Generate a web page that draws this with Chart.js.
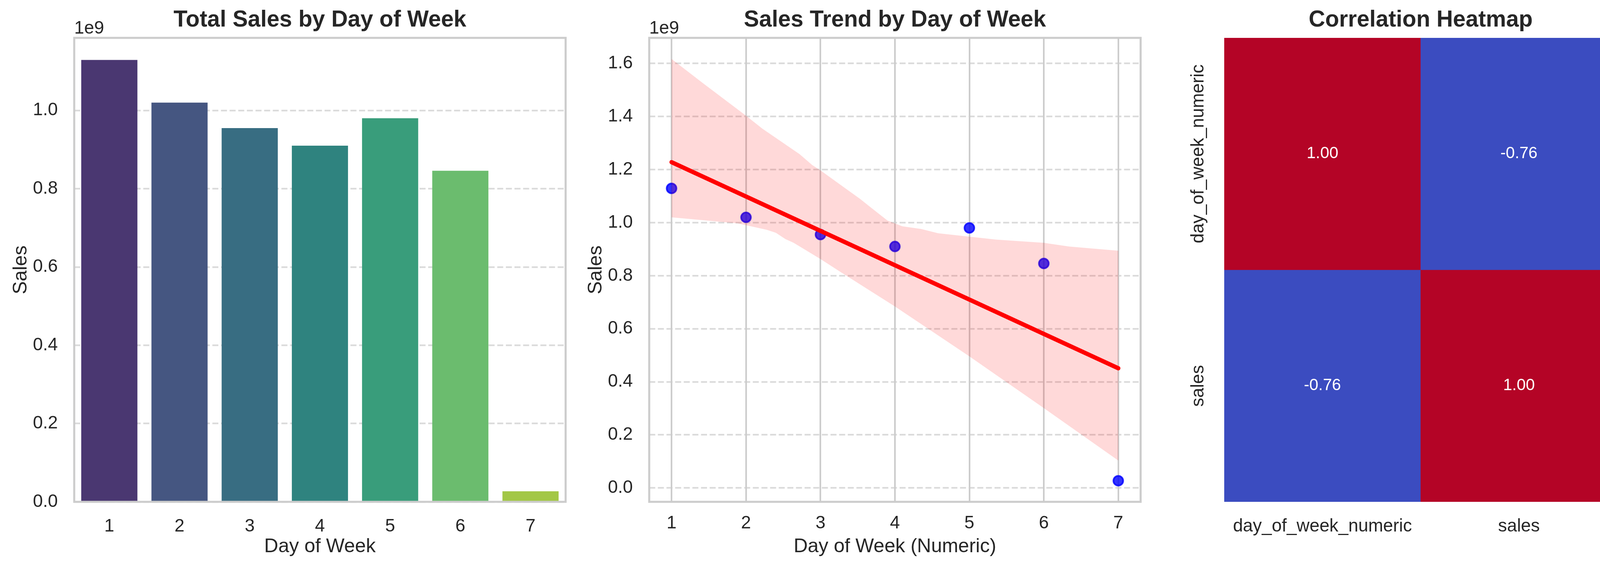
<!DOCTYPE html>
<html>
<head>
<meta charset="utf-8">
<script src="https://cdn.jsdelivr.net/npm/chart.js@4.4.1/dist/chart.umd.min.js"></script>
<style>
  html, body { margin: 0; padding: 0; background: #ffffff; }
  body { width: 4419px; height: 1457px; position: relative; overflow: hidden; }
  canvas { position: absolute; top: 0; }
</style>
</head>
<body>
<canvas id="barChart" width="1472" height="1457" style="left:0px"></canvas>
<canvas id="trendChart" width="1472" height="1457" style="left:1472px"></canvas>
<canvas id="heatChart" width="1236" height="1457" style="left:2944px"></canvas>
<canvas id="cbarChart" width="239" height="1457" style="left:4180px"></canvas>
<script>
// values
const days = ["1", "2", "3", "4", "5", "6", "7"];
const dayNums = [1, 2, 3, 4, 5, 6, 7];
const sales = [1.129e9, 1.020e9, 0.955e9, 0.910e9, 0.980e9, 0.846e9, 0.027e9];
const salesTicks = [0, 0.2e9, 0.4e9, 0.6e9, 0.8e9, 1.0e9];
const trendTicks = [0, 0.2e9, 0.4e9, 0.6e9, 0.8e9, 1.0e9, 1.2e9, 1.4e9, 1.6e9];

// regression line and its confidence band
const trendX = [1, 7];
const trendY = [1.228e9, 0.451e9];
const bandUpperX = [1, 1.42, 2, 2.22, 2.72, 2.89, 3, 3.36, 3.53, 3.65, 3.9, 4.1, 4.35, 4.58, 5.36, 6, 6.34, 7];
const bandUpperY = [1.617e9, 1.526e9, 1.403e9, 1.354e9, 1.258e9, 1.217e9, 1.197e9, 1.124e9, 1.090e9, 1.063e9,
                    1.008e9, 0.986e9, 0.976e9, 0.960e9, 0.936e9, 0.924e9, 0.910e9, 0.894e9];
const bandLowerX = [1, 1.89, 2.28, 2.40, 2.53, 2.64, 3, 3.28, 4, 5, 6, 7];
const bandLowerY = [1.020e9, 0.997e9, 0.973e9, 0.962e9, 0.938e9, 0.924e9, 0.863e9, 0.812e9,
                    0.684e9, 0.496e9, 0.301e9, 0.103e9];

// correlation matrix
const corrLabels = ["day_of_week_numeric", "sales"];
const corrValues = [[1.00, -0.76], [-0.76, 1.00]];
const cbarTicks = [-0.6, -0.4, -0.2, 0, 0.2, 0.4, 0.6, 0.8, 1.0];

// styles
const barColors = ["#4a3771", "#455681", "#386d82", "#2f837f", "#399d7b", "#6bbc6e", "#a3c746"];
const coolwarmStops = [
  [0, "#3b4cc0"], [0.125, "#6282ea"], [0.25, "#8db0fe"], [0.375, "#b8d0f9"], [0.5, "#dddddd"],
  [0.625, "#f4c4ac"], [0.75, "#f49a7b"], [0.875, "#dd604d"], [1, "#b40426"]
];
const TEXT = "#262626";
const TICK_FONT = { size: 45.8 };
const LABEL_FONT = { size: 50 };
const TITLE_FONT = { size: 58.3, weight: "bold" };

Chart.defaults.font.family = '"Liberation Sans", Arial, sans-serif';
Chart.defaults.color = TEXT;
Chart.defaults.animation = false;
Chart.defaults.responsive = false;
Chart.defaults.devicePixelRatio = 1;
Chart.defaults.plugins.legend.display = false;
Chart.defaults.plugins.tooltip.enabled = false;

function hexToRgb(h) {
  return [1, 3, 5].map(i => parseInt(h.slice(i, i + 2), 16));
}

function coolwarm(t) {
  t = Math.max(0, Math.min(1, t));
  for (let i = 1; i < coolwarmStops.length; i++) {
    const [t1, c1] = coolwarmStops[i];
    const [t0, c0] = coolwarmStops[i - 1];
    if (t <= t1) {
      const f = (t - t0) / (t1 - t0);
      const a = hexToRgb(c0), b = hexToRgb(c1);
      const c = a.map((v, k) => Math.round(v + (b[k] - v) * f));
      return "rgb(" + c.join(",") + ")";
    }
  }
  return coolwarmStops[coolwarmStops.length - 1][1];
}

// box round the plot area, like the axes spines
const framePlugin = {
  id: "frame",
  afterDatasetsDraw(chart) {
    const { ctx, chartArea: a } = chart;
    ctx.save();
    ctx.strokeStyle = "#cccccc";
    ctx.lineWidth = 5.2;
    ctx.strokeRect(a.left, a.top, a.right - a.left, a.bottom - a.top);
    ctx.restore();
  }
};

// the "1e9" offset label above the y axis
const offsetTextPlugin = {
  id: "offsetText",
  afterDraw(chart, args, opts) {
    const { ctx, chartArea: a } = chart;
    ctx.save();
    ctx.font = '45.8px "Liberation Sans", Arial, sans-serif';
    ctx.fillStyle = TEXT;
    ctx.textAlign = "left";
    ctx.textBaseline = "alphabetic";
    ctx.fillText(opts.text, a.left, a.top - 11);
    ctx.restore();
  }
};

function titleOpts(text) {
  return {
    display: true, text: text, fullSize: false, color: TEXT,
    font: TITLE_FONT, padding: { top: 17, bottom: 10 }
  };
}

function salesAxis(ticks, min, max) {
  return {
    type: "linear", min: min, max: max,
    afterBuildTicks: s => { s.ticks = ticks.map(v => ({ value: v })); },
    afterFit: s => { s.width = 190; },
    ticks: { padding: 42, font: TICK_FONT, color: TEXT, callback: v => (v / 1e9).toFixed(1) },
    grid: { color: "rgba(204,204,204,0.7)", lineWidth: 4.17, drawTicks: false },
    border: { display: false, dash: [15.4, 6.7] },
    title: { display: true, text: "Sales", font: LABEL_FONT, color: TEXT, padding: { top: 24, bottom: 0 } }
  };
}

// ---- panel 1: bars ----
new Chart(document.getElementById("barChart"), {
  type: "bar",
  data: {
    labels: days,
    datasets: [{
      data: sales,
      backgroundColor: barColors,
      borderWidth: 0,
      barPercentage: 0.8,
      categoryPercentage: 1
    }]
  },
  options: {
    layout: { padding: { left: 0, right: 24, top: 0, bottom: 0 } },
    plugins: { title: titleOpts("Total Sales by Day of Week"), offsetText: { text: "1e9" } },
    scales: {
      x: {
        type: "category", offset: true,
        grid: { display: false }, border: { display: false },
        afterFit: s => { s.height = 172; },
        ticks: { padding: 28, font: TICK_FONT, color: TEXT, maxRotation: 0, autoSkip: false },
        title: { display: true, text: "Day of Week", font: LABEL_FONT, color: TEXT, padding: { top: 0, bottom: 27 } }
      },
      y: salesAxis(salesTicks, 0, Math.max(...sales) * 1.05)
    }
  },
  plugins: [framePlugin, offsetTextPlugin]
});

// ---- panel 2: scatter with regression ----
const xMin = dayNums[0] - 0.05 * (dayNums[dayNums.length - 1] - dayNums[0]);
const xMax = dayNums[dayNums.length - 1] + 0.05 * (dayNums[dayNums.length - 1] - dayNums[0]);
const yLo = Math.min(...bandLowerY, ...sales);
const yHi = Math.max(...bandUpperY, ...sales);
const yPad = 0.05 * (yHi - yLo);

const bandShape = bandUpperX.map((x, i) => ({ x: x, y: bandUpperY[i] }))
  .concat(bandLowerX.map((x, i) => ({ x: x, y: bandLowerY[i] })).reverse());

new Chart(document.getElementById("trendChart"), {
  type: "scatter",
  data: {
    datasets: [
      {
        type: "line", order: 0,
        data: trendX.map((x, i) => ({ x: x, y: trendY[i] })),
        borderColor: "#ff0000", borderWidth: 11, borderCapStyle: "round",
        pointRadius: 0, fill: false, tension: 0
      },
      {
        type: "line", order: 1,
        data: bandShape,
        borderColor: "rgba(0,0,0,0)", borderWidth: 0,
        backgroundColor: "rgba(255,0,0,0.15)", fill: "shape",
        pointRadius: 0, tension: 0
      },
      {
        type: "scatter", order: 2,
        data: dayNums.map((x, i) => ({ x: x, y: sales[i] })),
        backgroundColor: "rgba(0,0,255,0.8)", borderColor: "rgba(0,0,255,0.8)",
        pointRadius: 12.5, borderWidth: 4.2
      }
    ]
  },
  options: {
    layout: { padding: { left: 0, right: 24, top: 0, bottom: 0 } },
    plugins: { title: titleOpts("Sales Trend by Day of Week"), offsetText: { text: "1e9" } },
    scales: {
      x: {
        type: "linear", min: xMin, max: xMax,
        afterBuildTicks: s => { s.ticks = dayNums.map(v => ({ value: v })); },
        afterFit: s => { s.height = 172; },
        grid: { color: "#cccccc", lineWidth: 4.17, drawTicks: false },
        border: { display: false },
        ticks: { padding: 28, font: TICK_FONT, color: TEXT, maxRotation: 0, callback: v => String(v) },
        title: { display: true, text: "Day of Week (Numeric)", font: LABEL_FONT, color: TEXT, padding: { top: 0, bottom: 27 } }
      },
      y: salesAxis(trendTicks, yLo - yPad, yHi + yPad)
    }
  },
  plugins: [framePlugin, offsetTextPlugin]
});

// ---- panel 3: correlation heatmap ----
const cMin = Math.min(...corrValues.flat());
const cMax = Math.max(...corrValues.flat());

const heatLabelsPlugin = {
  id: "heatLabels",
  afterDatasetsDraw(chart) {
    const { ctx, chartArea: a } = chart;
    const yScale = chart.scales.y;
    ctx.save();
    // cell annotations
    ctx.font = '41.7px "Liberation Sans", Arial, sans-serif';
    ctx.fillStyle = "#ffffff";
    ctx.textAlign = "center";
    ctx.textBaseline = "middle";
    chart.data.datasets.forEach((ds, r) => {
      chart.getDatasetMeta(r).data.forEach((el, c) => {
        ctx.fillText(ds.corr[c].toFixed(2), el.x, (el.y + el.base) / 2);
      });
    });
    // row labels, rotated
    ctx.font = '45.8px "Liberation Sans", Arial, sans-serif';
    ctx.fillStyle = TEXT;
    corrLabels.forEach((lab, r) => {
      ctx.save();
      ctx.translate(a.left - 66, yScale.getPixelForValue(r + 0.5));
      ctx.rotate(-Math.PI / 2);
      ctx.fillText(lab, 0, 0);
      ctx.restore();
    });
    ctx.restore();
  }
};

new Chart(document.getElementById("heatChart"), {
  type: "bar",
  data: {
    labels: corrLabels,
    datasets: corrValues.map((row, r) => ({
      data: row.map(() => [r, r + 1]),
      corr: row,
      backgroundColor: row.map(v => coolwarm((v - cMin) / (cMax - cMin))),
      borderWidth: 0,
      barPercentage: 1,
      categoryPercentage: 1,
      grouped: false
    }))
  },
  options: {
    layout: { padding: { left: 190, right: 40, top: 0, bottom: 0 } },
    plugins: { title: titleOpts("Correlation Heatmap") },
    scales: {
      x: {
        type: "category", offset: true,
        grid: { display: false }, border: { display: false },
        afterFit: s => { s.height = 172; },
        ticks: { padding: 28, font: TICK_FONT, color: TEXT, maxRotation: 0, autoSkip: false }
      },
      y: { type: "linear", min: 0, max: corrLabels.length, reverse: true, display: false }
    }
  },
  plugins: [heatLabelsPlugin]
});

// ---- colour bar ----
new Chart(document.getElementById("cbarChart"), {
  type: "bar",
  data: {
    labels: [""],
    datasets: [{
      data: [[cMin, cMax]],
      backgroundColor: c => {
        const a = c.chart.chartArea;
        if (!a) return coolwarmStops[0][1];
        const g = c.chart.ctx.createLinearGradient(0, a.bottom, 0, a.top);
        coolwarmStops.forEach(([t, col]) => g.addColorStop(t, col));
        return g;
      },
      borderWidth: 0,
      barPercentage: 1,
      categoryPercentage: 1
    }]
  },
  options: {
    layout: { padding: { left: 23, right: 0, top: 97, bottom: 172 } },
    scales: {
      x: { display: false },
      y: {
        position: "right", min: cMin, max: cMax,
        afterBuildTicks: s => { s.ticks = cbarTicks.map(v => ({ value: v })); },
        afterFit: s => { s.width = 157; },
        grid: { display: true, drawOnChartArea: false, drawTicks: true, tickLength: 25, tickWidth: 5.2, tickColor: TEXT },
        border: { display: false },
        ticks: {
          padding: 14.6, font: TICK_FONT, color: TEXT,
          callback: v => (v < 0 ? "\u2212" + Math.abs(v).toFixed(1) : v.toFixed(1))
        }
      }
    }
  }
});
</script>
</body>
</html>
